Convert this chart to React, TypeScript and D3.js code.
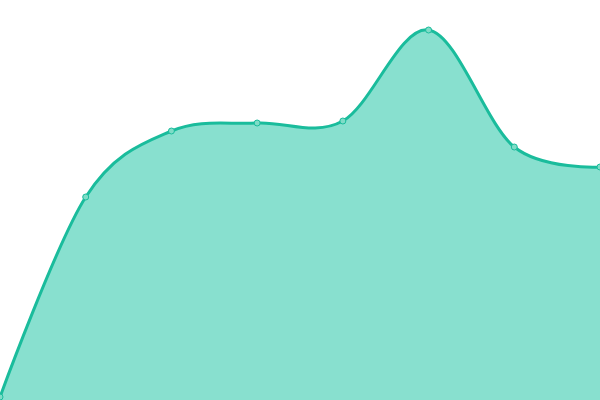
import { useEffect, useRef } from "react";
import * as d3 from "d3";

// x positions are category indices
const categories = ["A", "B", "C", "D", "E", "F", "G", "H"];
const values = [3, 203, 269, 277, 279, 370, 253, 233];

const width = 600;
const height = 400;

export default function App() {
  const svgRef = useRef<SVGSVGElement | null>(null);

  useEffect(() => {
    if (!svgRef.current) return;
    const svg = d3.select(svgRef.current);
    svg.selectAll("*").remove();

    const x = d3.scalePoint<string>().domain(categories).range([0, width]);
    const y = d3.scaleLinear().domain([0, 400]).range([height, 0]);

    const curve = d3.curveCardinal.tension(0);

    const area = d3
      .area<number>()
      .x((_d, i) => x(categories[i])!)
      .y0(height)
      .y1(d => y(d))
      .curve(curve);

    const line = d3
      .line<number>()
      .x((_d, i) => x(categories[i])!)
      .y(d => y(d))
      .curve(curve);

    svg.append("path").attr("d", area(values)).attr("fill", "#88e0cf");

    svg
      .append("path")
      .attr("d", line(values))
      .attr("fill", "none")
      .attr("stroke", "#1abc9c")
      .attr("stroke-width", 3);

    svg
      .selectAll("circle")
      .data(values)
      .enter()
      .append("circle")
      .attr("cx", (_d, i) => x(categories[i])!)
      .attr("cy", d => y(d))
      .attr("r", 3)
      .attr("fill", "#7fdcc7")
      .attr("stroke", "#1abc9c")
      .attr("stroke-width", 1);
  }, []);

  return (
    <svg
      ref={svgRef}
      width={width}
      height={height}
      style={{ position: "absolute", left: 0, top: 0, background: "#fff" }}
    />
  );
}
